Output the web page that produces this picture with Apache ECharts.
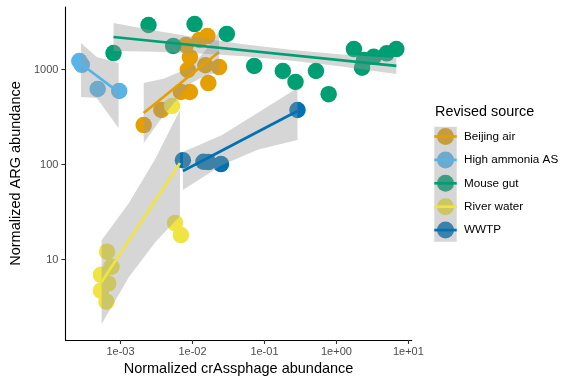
<!DOCTYPE html>
<html><head><meta charset="utf-8">
<script src="https://cdn.jsdelivr.net/npm/echarts@6/dist/echarts.min.js"></script>
<style>html,body{margin:0;padding:0;background:#fff}#c{width:576px;height:384px}</style>
</head><body><div id="c"></div>
<script>
// ---- categories ----
const sources = ['Beijing air', 'High ammonia AS', 'Mouse gut', 'River water', 'WWTP'];
const colors = ['#E69F00', '#56B4E9', '#009E73', '#F0E442', '#0072B2'];

// ---- tick labels (log10 exponents) ----
const xTicks = [-3, -2, -1, 0, 1];
const yTicks = [1, 2, 3];

// ---- Beijing air ----
const beijingX = [0.0021, 0.0037, 0.0069, 0.0092, 0.0086, 0.0092, 0.0081, 0.0125, 0.0161, 0.0151, 0.0234, 0.0166];
const beijingY = [260, 375, 580, 580, 990, 1350, 1810, 2050, 2250, 1110, 1060, 720];
const beijingLineX = [0.0021, 0.0234];
const beijingLineY = [348, 1528];
const beijingBandX = [0.0021, 0.00394, 0.00916, 0.01466, 0.0234];
const beijingBandHi = [721, 798, 1042, 1539, 2489];
const beijingBandLo = [168, 327, 706, 853, 939];

// ---- High ammonia AS ----
const ammoniaX = [0.000268, 0.000290, 0.000482, 0.00096];
const ammoniaY = [1230, 1120, 624, 594];
const ammoniaLineX = [0.000283, 0.00094];
const ammoniaLineY = [1143, 579];
const ammoniaBandX = [0.000283, 0.000467, 0.00094];
const ammoniaBandHi = [1901, 1355, 1170];
const ammoniaBandLo = [514, 501, 242];

// ---- Mouse gut ----
const mouseX = [0.0008, 0.00245, 0.0054, 0.0107, 0.030, 0.072, 0.18, 0.27, 0.52, 0.78, 1.75, 2.27, 2.42, 3.3, 5.0, 6.8];
const mouseY = [1490, 2940, 1770, 3010, 2370, 1090, 965, 740, 965, 550, 1640, 1045, 1260, 1360, 1480, 1640];
const mouseLineX = [0.0008, 6.8];
const mouseLineY = [2200, 1090];
const mouseBandX = [0.0008, 0.00306, 0.01466, 0.0513, 0.2455, 1.177, 6.8];
const mouseBandHi = [3085, 2553, 2103, 1841, 1607, 1442, 1321];
const mouseBandLo = [1566, 1535, 1462, 1377, 1233, 1078, 897];

// ---- River water ----
const riverX = [0.00065, 0.00075, 0.000535, 0.000674, 0.000535, 0.000638, 0.00573, 0.0069, 0.00521];
const riverY = [12.1, 8.4, 6.9, 5.6, 4.7, 3.6, 24.2, 18.1, 413];
const riverLineX = [0.000546, 0.0067];
const riverLineY = [5.8, 104];
const riverBandX = [0.000546, 0.00131, 0.00306, 0.0067];
const riverBandHi = [16.0, 39.4, 115.6, 375];
const riverBandLo = [2.09, 6.55, 15.3, 28.7];

// ---- WWTP ----
const wwtpX = [0.00736, 0.0142, 0.0166, 0.0249, 0.288];
const wwtpY = [111, 107, 106, 101, 375];
const wwtpLineX = [0.00736, 0.288];
const wwtpLineY = [85.5, 366];
const wwtpBandX = [0.00736, 0.02576, 0.082, 0.288];
const wwtpBandHi = [135.5, 204.7, 353, 638];
const wwtpBandLo = [54.0, 98.8, 144, 181];

const groups = [
  [beijingX, beijingY, beijingLineX, beijingLineY, beijingBandX, beijingBandHi, beijingBandLo],
  [ammoniaX, ammoniaY, ammoniaLineX, ammoniaLineY, ammoniaBandX, ammoniaBandHi, ammoniaBandLo],
  [mouseX, mouseY, mouseLineX, mouseLineY, mouseBandX, mouseBandHi, mouseBandLo],
  [riverX, riverY, riverLineX, riverLineY, riverBandX, riverBandHi, riverBandLo],
  [wwtpX, wwtpY, wwtpLineX, wwtpLineY, wwtpBandX, wwtpBandHi, wwtpBandLo]
];

const L = v => Math.log10(v);
const FONT = 'Liberation Sans, Arial, sans-serif';
const BAND = 'rgba(153,153,153,0.4)';

const series = [];
groups.forEach((g, i) => {
  const [px, py] = g;
  series.push({
    type: 'scatter', name: sources[i], z: 2,
    symbol: 'circle', symbolSize: 16.5,
    itemStyle: { color: colors[i], opacity: 1 },
    data: px.map((x, k) => [L(x), L(py[k])]),
    silent: true
  });
});
groups.forEach((g, i) => {
  const [px, py, lx, ly, bx, bh, bl] = g;
  series.push({
    type: 'custom', name: sources[i] + ' band', z: 3 + 2 * i, silent: true,
    data: [[L(bx[0]), L(bh[0])]],
    renderItem: (params, api) => {
      const pts = [];
      for (let k = 0; k < bx.length; k++) pts.push(api.coord([L(bx[k]), L(bh[k])]));
      for (let k = bx.length - 1; k >= 0; k--) pts.push(api.coord([L(bx[k]), L(bl[k])]));
      return { type: 'polygon', shape: { points: pts }, style: { fill: BAND, stroke: null } };
    }
  });
  series.push({
    type: 'line', name: sources[i] + ' fit', z: 4 + 2 * i, silent: true,
    showSymbol: false, symbol: 'none',
    lineStyle: { color: colors[i], width: 2.7 },
    data: lx.map((x, k) => [L(x), L(ly[k])])
  });
});

const fmtX = v => '1e' + (v < 0 ? '-' : '+') + String(Math.abs(v)).padStart(2, '0');
const fmtY = v => String(Math.round(Math.pow(10, v)));

const chart = echarts.init(document.getElementById('c'), null, { renderer: 'canvas' });
const legendTop = 128, legendStep = 23.4;
const graphics = [
  { type: 'text', left: 435, top: 105.5, z: 100,
    style: { text: 'Revised source', font: '14.4px ' + FONT, fill: '#000' } },
  { type: 'rect', shape: { x: 434.3, y: 126.7, width: 22.4, height: 115 }, z: 100,
    style: { fill: BAND } }
];
sources.forEach((s, i) => {
  const y = legendTop + 8.5 + i * legendStep;
  graphics.push({ type: 'line', z: 101, shape: { x1: 434.3, y1: y, x2: 456.7, y2: y },
    style: { stroke: colors[i], lineWidth: 2.7 } });
});

chart.setOption({
  animation: false,
  backgroundColor: '#fff',
  textStyle: { fontFamily: FONT },
  grid: { left: 58, right: 164.3, top: 7, bottom: 44, containLabel: false },
  xAxis: {
    type: 'value', min: -3.766, max: 1.046,
    name: 'Normalized crAssphage abundance', nameLocation: 'middle', nameGap: 21,
    nameTextStyle: { fontSize: 14.5, color: '#000', fontFamily: FONT },
    axisLine: { onZero: false, lineStyle: { color: '#000', width: 1.1 } },
    axisTick: { customValues: xTicks, length: 4, lineStyle: { color: '#333', width: 1.1 } },
    axisLabel: { customValues: xTicks, formatter: fmtX, fontSize: 11, color: '#4d4d4d', margin: 6, fontFamily: FONT },
    splitLine: { show: false }
  },
  yAxis: {
    type: 'value', min: 0.153, max: 3.658,
    name: 'Normalized ARG abundance', nameLocation: 'middle', nameGap: 35,
    nameTextStyle: { fontSize: 14.5, color: '#000', fontFamily: FONT },
    axisLine: { onZero: false, lineStyle: { color: '#000', width: 1.1 } },
    axisTick: { customValues: yTicks, length: 4, lineStyle: { color: '#333', width: 1.1 } },
    axisLabel: { customValues: yTicks, formatter: fmtY, fontSize: 11, color: '#4d4d4d', margin: 7, fontFamily: FONT },
    splitLine: { show: false }
  },
  legend: {
    data: sources.map(n => ({ name: n, icon: 'circle' })),
    orient: 'vertical', left: 437, top: legendTop, padding: 0,
    itemWidth: 17, itemHeight: 17, itemGap: legendStep - 17,
    selectedMode: false,
    textStyle: { fontSize: 11.7, color: '#000', fontFamily: FONT, padding: [0, 0, 0, 5] }
  },
  graphic: graphics,
  series: series
});
</script></body></html>
